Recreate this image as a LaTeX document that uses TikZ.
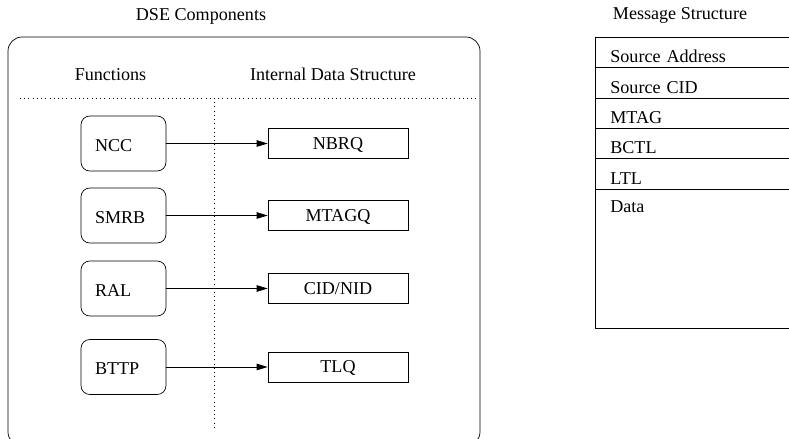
\documentclass[tikz,border=0pt]{standalone}
\usepackage{fontspec}
\setmainfont{Liberation Serif}
\usetikzlibrary{arrows.meta}

\tikzset{
  funcbox/.style={draw, rounded corners=5pt, minimum width=1.7cm, minimum height=1.1cm,
    inner xsep=0.28cm, text width=1.14cm, align=left, text height=9pt, text depth=0pt},
  databox/.style={draw, minimum width=2.8cm, minimum height=0.6cm,
    text height=6.8pt, text depth=0pt},
  field/.style={draw, anchor=north west, minimum width=4.2cm, minimum height=0.61cm,
    inner xsep=0.3cm, inner ysep=0pt, text width=3.6cm, align=left,
    text height=11.4pt, text depth=0pt},
  feeds/.style={-{Triangle[length=2.2mm,width=1.3mm]}},
}

\begin{document}
\begin{tikzpicture}[x=0.02cm, y=-0.02cm, font=\fontsize{10.3pt}{12pt}\selectfont]%
  \useasboundingbox (0,0) rectangle (789,439);%
  \clip (0,0) rectangle (789,439);%
  % components side
  \node[anchor=base] (dsetitle) at (201,21) {DSE Components};%
  \draw[rounded corners=8pt] (8,37) rectangle (480,446);%
  \node[anchor=base] (functions) at (110.5,81) {Functions};%
  \node[anchor=base] (internal) at (333,81) {Internal Data Structure};%
  \draw[dotted] (20,98) -- (478,98);%
  \draw[dotted] (214,98) -- (214,429);%
  \node[funcbox] (ncc) at (123.5,143.5) {NCC};%
  \node[funcbox] (smrb) at (123.5,215.5) {SMRB};%
  \node[funcbox] (ral) at (123.5,288.5) {RAL};%
  \node[funcbox] (bttp) at (123.5,367) {BTTP};%
  \node[databox] (nbrq) at (338,143.5) {NBRQ};%
  \node[databox] (mtagq) at (338,215.5) {MTAGQ};%
  \node[databox] (cidnid) at (338,288.5) {CID/NID};%
  \node[databox] (tlq) at (338,367) {TLQ};%
  \draw[feeds] (ncc) -- (nbrq);%
  \draw[feeds] (smrb) -- (mtagq);%
  \draw[feeds] (ral) -- (cidnid);%
  \draw[feeds] (bttp) -- (tlq);%
  % message layout
  \node[anchor=base] (msgtitle) at (680,19.5) {Message Structure};%
  \node[field] (srcaddr) at (595,37) {Source Address};%
  \node[field] (srccid) at (595,67.5) {Source CID};%
  \node[field] (mtag) at (595,98) {MTAG};%
  \node[field] (bctl) at (595,128) {BCTL};%
  \node[field] (ltl) at (595,158.5) {LTL};%
  \node[field, minimum height=2.78cm] (data) at (595,189) {};%
  \node[anchor=base west, inner xsep=0pt] (datatext) at (610,213) {Data};%
\end{tikzpicture}
\end{document}
